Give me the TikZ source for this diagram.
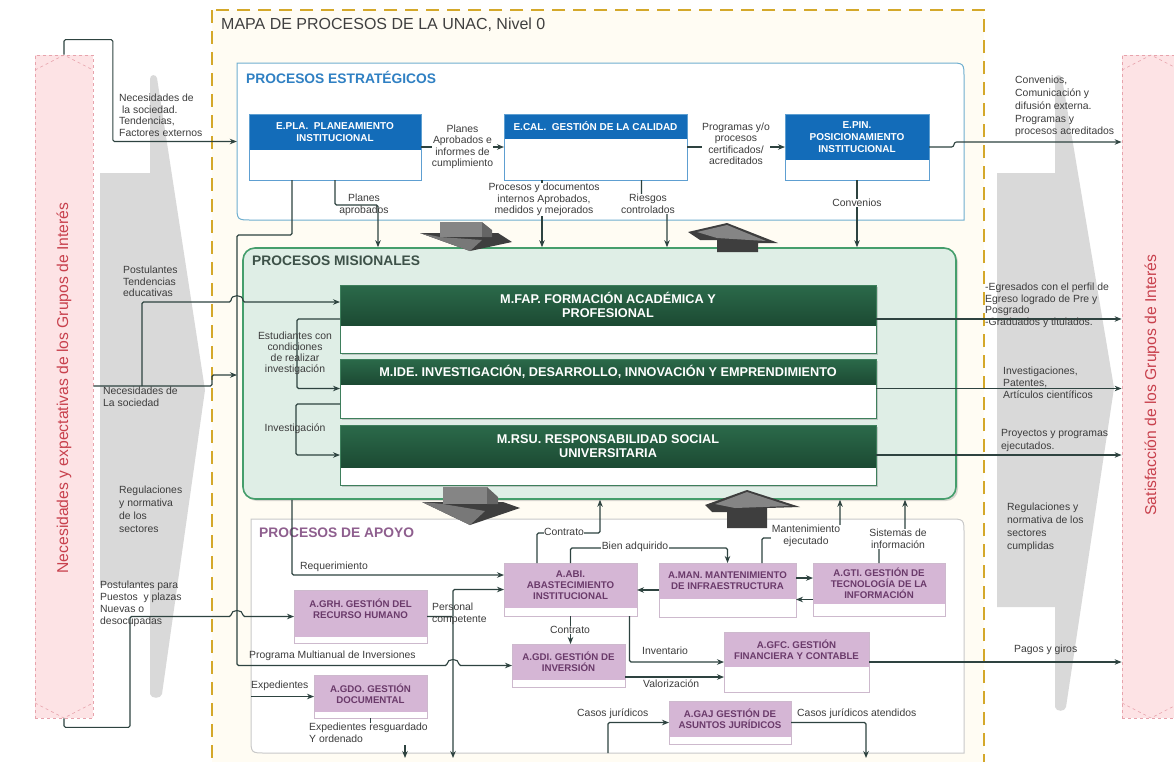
\documentclass[tikz,border=0pt]{standalone}
\usepackage{fontspec}
\setmainfont{Liberation Sans}
\usetikzlibrary{arrows.meta,shadows,calc}
\definecolor{pinkf}{HTML}{FDE3E5}
\definecolor{pinkd}{HTML}{E7A3AC}
\definecolor{pinkt}{HTML}{C8414D}
\definecolor{grayf}{HTML}{D9D9D9}
\definecolor{yelb}{HTML}{D4A82A}
\definecolor{yelf}{HTML}{FFFCF3}
\definecolor{estb}{HTML}{6FAFCF}
\definecolor{estt}{HTML}{2F80C3}
\definecolor{ehd}{HTML}{136CB9}
\definecolor{eed}{HTML}{5E9FD1}
\definecolor{misf}{HTML}{DFEEE6}
\definecolor{misb}{HTML}{459E6C}
\definecolor{mist}{HTML}{3D5148}
\definecolor{mtop}{HTML}{2B6A4A}
\definecolor{mbot}{HTML}{1C4A33}
\definecolor{med}{HTML}{3E7F5C}
\definecolor{apb}{HTML}{C9C9C9}
\definecolor{apt}{HTML}{8E5E8E}
\definecolor{ahd}{HTML}{D5B6D5}
\definecolor{aed}{HTML}{CDB9CD}
\definecolor{atx}{HTML}{6A3A6A}
\definecolor{connc}{HTML}{2E4340}
\definecolor{lbltx}{HTML}{3C3C3C}
\definecolor{titc}{HTML}{404040}
\definecolor{arrl}{HTML}{858585}
\definecolor{arrd}{HTML}{3E3E3E}
\newcommand\mkbox[8]{%
 \node[#7frame, inner sep=0pt, outer sep=0pt, minimum width={(#5)-(#2)}, minimum height={(#6)-(#3)}] (#1) at ({((#2)+(#5))/2},{((#3)+(#6))/2}) {};
 \path[#7head] (#2,#3) rectangle (#5,#4);
 \draw[#7edge] (#2,#3) rectangle (#5,#6);
 \node[#7text] (#1-t) at ({((#2)+(#5))/2},{((#3)+(#4))/2}) {#8};
}
\begin{document}
\begin{tikzpicture}[x=1pt,y=-1pt,
 lbl/.style={font=\fontsize{10.4}{11.5}\selectfont, text=lbltx, inner sep=0pt, align=left},
 lblm/.style={lbl, align=center},
 conn/.style={draw=connc, line width=1.1pt, -{Stealth[length=7pt,width=5.5pt]}, rounded corners=1.5pt},
 plain/.style={draw=connc, line width=1.1pt},
 ehead/.style={fill=ehd}, eframe/.style={fill=white}, eedge/.style={draw=eed, line width=0.8pt},
 etext/.style={text=white, font=\bfseries\fontsize{10}{12}\selectfont, align=center, inner sep=0pt},
 mhead/.style={top color=mtop, bottom color=mbot}, mframe/.style={fill=white, drop shadow={opacity=0.35, shadow xshift=1.5pt, shadow yshift=-2pt}},
 medge/.style={draw=med, line width=0.8pt},
 mtext/.style={text=white, font=\bfseries\fontsize{12.7}{14}\selectfont, align=center, inner sep=0pt},
 ahead/.style={fill=ahd}, aframe/.style={fill=white}, aedge/.style={draw=aed, line width=0.8pt},
 atext/.style={text=atx, font=\bfseries\fontsize{9.7}{11}\selectfont, align=center, inner sep=0pt},
 pinkbar/.style={fill=pinkf, draw=pinkd, dashed, line width=0.8pt, inner sep=0pt},
 ptext/.style={rotate=90, text=pinkt, font=\fontsize{15.7}{17}\selectfont, inner sep=0pt},
 sectitle/.style={font=\bfseries\fontsize{13.8}{15}\selectfont, inner sep=0pt, anchor=west}
]
\useasboundingbox (0,0) rectangle (1174,761);
\fill[white] (0,0) rectangle (1174,761);

% outer dashed frame
\draw[draw=yelb, dash pattern=on 13pt off 8pt, line width=1.3pt, fill=yelf] (212,10) rectangle (984,790);
\node[anchor=west, inner sep=0pt, text=titc, font=\fontsize{16}{18}\selectfont] (title) at (221,25) {MAPA DE PROCESOS DE LA UNAC, Nivel 0};

% grey chevrons
\fill[grayf] (100,173) -- (150,173) -- (150,79) .. controls (150,74) and (156,74) .. (157,78) -- (205,390) -- (162,694) .. controls (161,699) and (151,699) .. (150,694) -- (150,585) -- (100,585) -- cycle;
\fill[grayf] (997,173) -- (1055,173) -- (1055,79) .. controls (1055,74) and (1061,74) .. (1062,78) -- (1114,388) -- (1066,707) .. controls (1065,712) and (1056,712) .. (1055,707) -- (1055,607) -- (997,607) -- cycle;

% pink bars
\node[pinkbar, minimum width=58, minimum height=663] (pinkL) at (64,386.5) {};
\node[pinkbar, minimum width=58, minimum height=663] (pinkR) at (1151,386.5) {};
\draw[pinkd, dashed, line width=0.6pt] (35,70) -- (64,55) -- (93,70);
\draw[pinkd, dashed, line width=0.6pt] (35,703) -- (64,718) -- (93,703);
\draw[pinkd, dashed, line width=0.6pt] (1122,70) -- (1151,55) -- (1180,70);
\draw[pinkd, dashed, line width=0.6pt] (1122,703) -- (1151,718) -- (1180,703);
\node[ptext] (tL) at (64,388) {Necesidades y expectativas de los Grupos de Interés};
\node[ptext] (tR) at (1152,385) {Satisfacción de los Grupos de Interés};

% sections
\node[inner sep=0pt, minimum width=727, minimum height=157] (estr) at (600.5,141.5) {};
\draw[estb, line width=1pt, fill=white] (237,63) -- (949,63) .. controls (964,63) .. (964,78) -- (964,220) -- (252,220) .. controls (237,220) .. (237,205) -- cycle;
\node[sectitle, text=estt] (estrT) at (246,77) {PROCESOS ESTRATÉGICOS};

\node[draw=misb, line width=1.6pt, fill=misf, rounded corners=12pt, minimum width=713, minimum height=251, inner sep=0pt, drop shadow={opacity=0.3,shadow xshift=2pt,shadow yshift=-2pt}] (mis) at (599.5,373.5) {};
\node[sectitle, text=mist] (misT) at (252,261) {PROCESOS MISIONALES};

\node[inner sep=0pt, minimum width=713, minimum height=234] (apoyo) at (607.5,636) {};
\draw[apb, line width=1pt, fill=white] (251,519) -- (949,519) .. controls (964,519) .. (964,534) -- (964,753) -- (266,753) .. controls (251,753) .. (251,738) -- cycle;
\node[sectitle, text=apt] (apT) at (259,533) {PROCESOS DE APOYO};

% 3D block arrows
\fill[arrd] (420,233) -- (498,233) -- (512,242) -- (470,251) -- cycle;
\fill[arrd!70] (420,233) -- (470,251) -- (482,240) -- (440,237) -- cycle;
\fill[arrl] (440,222) rectangle (482,237);
\fill[arrd!80] (482,222) -- (492,230) -- (492,237) -- (482,237) -- cycle;
\fill[arrd] (688,232) -- (727,223) -- (778,243) -- (758,243) -- (758,252) -- (717,252) -- (717,240) -- (700,240) -- cycle;
\fill[arrl] (697,232) -- (727,225) -- (766,241) -- (717,238) -- cycle;
\fill[arrd] (422,502) -- (503,502) -- (520,508) -- (470,525) -- cycle;
\fill[arrd!70] (422,502) -- (470,525) -- (485,511) -- (443,504) -- cycle;
\fill[arrl] (443,487) rectangle (487,504);
\fill[arrd!80] (487,487) -- (498,497) -- (498,504) -- (487,504) -- cycle;
\fill[arrd] (705,505) -- (747,490) -- (800,507) -- (767,508) -- (767,528) -- (727,528) -- (727,512) -- (712,512) -- cycle;
\fill[arrl] (715,504) -- (747,492) -- (790,506) -- (735,508) -- cycle;

% process boxes
\mkbox{epla}{249}{114}{150}{421}{180}{e}{E.PLA.\ \ PLANEAMIENTO\\INSTITUCIONAL}
\mkbox{ecal}{504}{114}{139}{687}{180}{e}{E.CAL.\ \ GESTIÓN DE LA CALIDAD}
\mkbox{epin}{785}{114}{160}{929}{180}{e}{E.PIN.\\POSICIONAMIENTO\\INSTITUCIONAL}
\mkbox{mfap}{340}{285}{325}{876}{353}{m}{M.FAP. FORMACIÓN ACADÉMICA Y\\PROFESIONAL}
\mkbox{mide}{340}{359}{384}{876}{418}{m}{M.IDE. INVESTIGACIÓN, DESARROLLO, INNOVACIÓN Y EMPRENDIMIENTO}
\mkbox{mrsu}{340}{425}{467}{876}{485}{m}{M.RSU. RESPONSABILIDAD SOCIAL\\UNIVERSITARIA}
\mkbox{aabi}{504}{563}{608}{637}{616}{a}{A.ABI.\\ABASTECIMIENTO\\INSTITUCIONAL}
\mkbox{aman}{659}{563}{599}{796}{617}{a}{A.MAN. MANTENIMIENTO\\DE INFRAESTRUCTURA}
\mkbox{agti}{813}{563}{604}{945}{616}{a}{A.GTI. GESTIÓN DE\\TECNOLOGÍA DE LA\\INFORMACIÓN}
\mkbox{agrh}{294}{590}{627}{427}{643}{a}{A.GRH. GESTIÓN DEL\\RECURSO HUMANO}
\path[ahead] (294,627) rectangle (427,637);
\draw[aedge] (294,590) rectangle (427,643);
\mkbox{agdi}{512}{644}{680}{625}{687}{a}{A.GDI. GESTIÓN DE\\INVERSIÓN}
\mkbox{agfc}{724}{632}{667}{869}{692}{a}{A.GFC. GESTIÓN\\FINANCIERA Y CONTABLE}
\mkbox{agdo}{314}{675}{712}{427}{718}{a}{A.GDO. GESTIÓN\\DOCUMENTAL}
\mkbox{agaj}{669}{701}{737}{791}{744}{a}{A.GAJ GESTIÓN DE\\ASUNTOS JURÍDICOS}

% connectors: strategic
\draw[conn] (pinkL.north) -- ++(0,-15) -| ($(estr.west)+(-124,0)$) -- (estr.west);
\draw[conn] (epla.east) -- (ecal.west);
\draw[conn] (ecal.east) -- (epin.west);
\draw[conn] (epin.east) -- (950,147) .. controls (955,147) and (953,142) .. (958,142) -- (pinkR.west |- 0,142);
\draw[conn] (epla.south) -- ++(0,25) -- ++(43,0) -- (378,0 |- mis.north);
\draw[conn] ([xshift=-53.5]ecal.south) -- ([xshift=-53.5]ecal.south |- mis.north);
\draw[conn] ([xshift=46]ecal.south) -- ++(0,24) -| (667,0 |- mis.north);
\draw[conn] (epin.south) -- (epin.south |- mis.north);
\draw[conn] ([xshift=-43]epla.south) -- ++(0,55) -| (237,665.5) -- (447,665.5) .. controls (447,658) and (459,658) .. (459,665.5) -- (agdi.west);

% connectors: missional
\draw[conn] (pinkL.east |- 0,386) -- (212,386) -- (212,375) -- (237,375);
\draw[conn] (142,386) -- (142,302) -- (231,302) .. controls (231,294) and (243,294) .. (243,302) -- (mfap.west |- 0,302);
\draw[conn] (mfap.west) -- ++(-43,0) |- (mide.west);
\draw[conn] ([yshift=-15.5]mide.west) -- ++(-44,0) |- (mrsu.west);
\draw[conn] (mfap.east) -- (pinkR.west |- mfap.east);
\draw[conn] (mide.east) -- (pinkR.west |- mide.east);
\draw[conn] (mrsu.east) -- (pinkR.west |- mrsu.east);

% connectors: support
\draw[conn] (292,0 |- mis.south) |- (aabi.west |- 0,575);
\draw[conn] (pinkL.south) -- ++(0,9) -| (130,616.5) -- (231,616.5) .. controls (231,609) and (243,609) .. (243,616.5) -- (agrh.west);
\draw[conn] (agrh.east) -| (453,758);
\draw[conn] (453,616.5) |- (aabi.west);
\draw[conn] (apoyo.west |- agdo.west) -- (agdo.west);
\draw[plain] (agdo.south) -- ++(0,5);
\draw[conn] (405,745) -- (405,758);
\draw[conn] ([xshift=-33.5]aabi.north) |- (600,533) -- (600,0 |- mis.south);
\draw[conn] (aabi.north) |- ([yshift=15]aman.north) -- (aman.north);
\draw[conn] (aabi.south) -- (aabi.south |- agdi.north);
\draw[conn] ([xshift=59]aabi.south) |- (agfc.west);
\draw[conn] ([yshift=-11.5]agdi.east) -- (agfc.west |- 0,677);
\draw[conn] (aman.west) -- (aabi.east |- aman.west);
\draw[conn] ([yshift=12]aman.east) -- (agti.west |- 0,578);
\draw[conn] ([yshift=-10]agti.west) -- (aman.east |- 0,599.5);
\draw[conn] ([xshift=34.5]aman.north) |- (840,538) -- (840,0 |- mis.south);
\draw[conn] (agti.north) |- (905,538) -- (905,0 |- mis.south);
\draw[conn] (agfc.east) -- (pinkR.west |- agfc.east);
\draw[conn] (608,0 |- apoyo.south) |- (agaj.west);
\draw[conn] (agaj.east) -| (866,758);

% labels
\node[lbl, anchor=north west] (l1) at (119,94) {Necesidades de\\\ la sociedad.\\Tendencias,\\Factores externos};
\node[lblm, fill=white] (l2) at (462.5,147) {Planes\\Aprobados e\\informes de\\cumplimiento};
\node[lblm, fill=white] (l3) at (736,144) {Programas y/o\\procesos\\certificados/\\acreditados};
\node[lbl, anchor=north west, font=\fontsize{10.4}{12.8}\selectfont] (l4) at (1015,76) {Convenios,\\Comunicación y\\difusión externa.\\Programas y\\procesos acreditados};
\node[lblm] (l5) at (364,205) {Planes\\aprobados};
\node[lblm, fill=white] (l6) at (544,199.5) {Procesos y documentos\\internos Aprobados,\\medidos y mejorados};
\node[lblm, fill=white] (l7) at (648,204) {Riesgos\\controlados};
\node[lblm, fill=white] (l8) at (857,203) {Convenios};
\node[lbl, anchor=north west] (l9) at (123,266) {Postulantes\\Tendencias\\educativas};
\node[lbl, anchor=north west] (l10) at (103,387) {Necesidades de\\La sociedad};
\node[lblm, font=\fontsize{10.4}{11}\selectfont] (l11) at (295,353) {Estudiantes con\\condiciones\\de realizar\\investigación};
\node[lblm] (l12) at (295,429) {Investigación};
\node[lbl, anchor=north west, font=\fontsize{10.4}{11.6}\selectfont] (l13) at (985,283) {-Egresados con el perfil de\\Egreso logrado de Pre y\\Posgrado\\-Graduados y titulados.};
\node[lbl, anchor=north west, font=\fontsize{10.4}{12}\selectfont] (l14) at (1003,367) {Investigaciones,\\Patentes,\\Artículos científicos};
\node[lbl, anchor=north west, font=\fontsize{10.4}{13}\selectfont] (l15) at (1001,429) {Proyectos y programas\\ejecutados.};
\node[lbl, anchor=north west, font=\fontsize{10.4}{13}\selectfont] (l16) at (119,486) {Regulaciones\\y normativa\\de los\\sectores};
\node[lbl, anchor=north west, font=\fontsize{10.4}{13}\selectfont] (l17) at (1007,503) {Regulaciones y\\normativa de los\\sectores\\cumplidas};
\node[lbl, anchor=north west, font=\fontsize{10.4}{12}\selectfont] (l18) at (100,581) {Postulantes para\\Puestos\ \ y plazas\\Nuevas o\\desocupadas};
\node[lbl, anchor=north west] (l19) at (300,562) {Requerimiento};
\node[lbl, anchor=north west] (l20) at (432,603) {Personal\\competente};
\node[lbl, anchor=north west] (l21) at (249,651) {Programa Multianual de Inversiones};
\node[lbl, anchor=north west] (l22) at (251,681) {Expedientes};
\node[lbl, anchor=north west] (l23) at (309,723) {Expedientes resguardado\\Y ordenado};
\node[lblm, fill=white, inner sep=0.5pt] (l24) at (564,532) {Contrato};
\node[lblm, fill=white, inner sep=0.5pt] (l25) at (635,547) {Bien adquirido};
\node[lblm, fill=white, inner sep=0.5pt] (l26) at (570,630) {Contrato};
\node[lbl, anchor=north west] (l27) at (642,647) {Inventario};
\node[lbl, anchor=north west] (l28) at (643,680) {Valorización};
\node[lblm, fill=white, inner sep=0.5pt] (l29) at (806,536) {Mantenimiento\\ejecutado};
\node[lblm, fill=white, inner sep=0.5pt] (l30) at (898,539) {Sistemas de\\información};
\node[lbl, anchor=north west] (l31) at (1014,645) {Pagos y giros};
\node[lbl, anchor=north west] (l32) at (577,709) {Casos jurídicos};
\node[lbl, anchor=north west] (l33) at (797,709) {Casos jurídicos atendidos};
\end{tikzpicture}
\end{document}
